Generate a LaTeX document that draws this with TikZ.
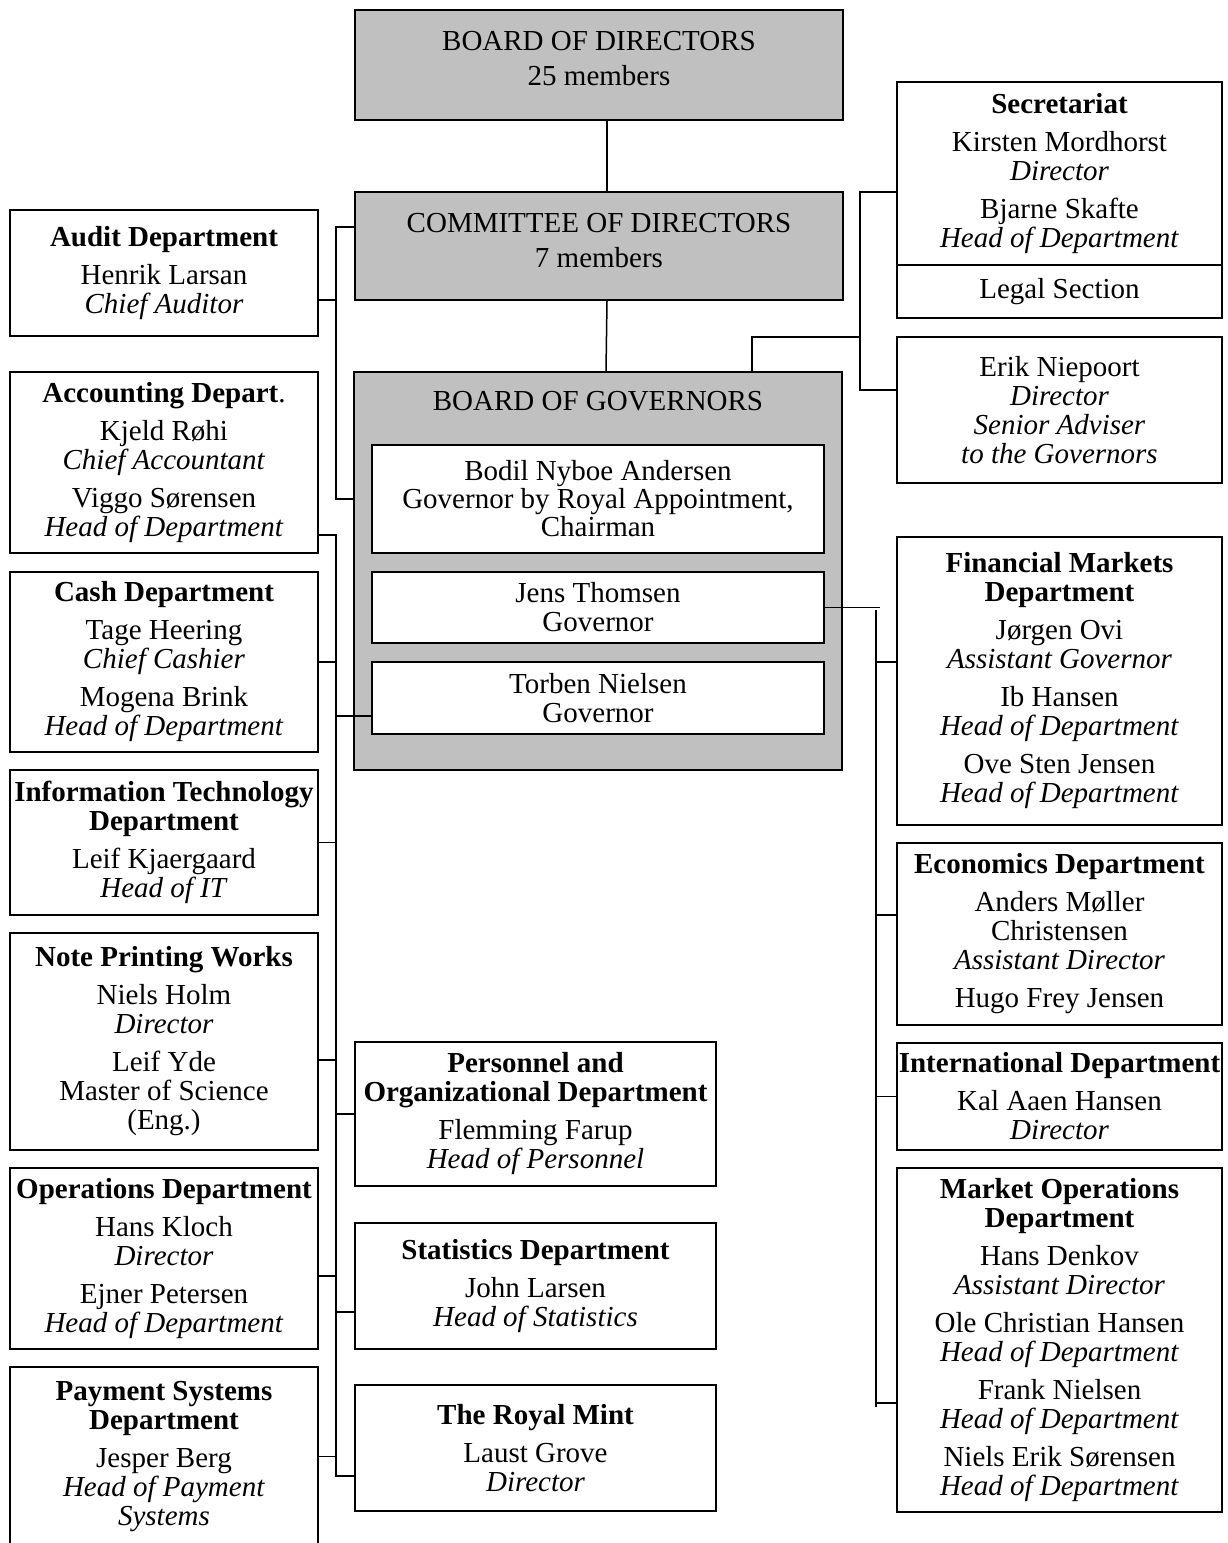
\documentclass[tikz,border=0pt]{standalone}
\usepackage{fontspec}
\setmainfont{Liberation Serif}
\definecolor{boardGray}{RGB}{192,192,192}
\newcommand{\orgfont}{\fontsize{14.5}{14.5}\selectfont}
\newcommand{\liftby}[1]{\rule[-#1]{0pt}{0pt}}
\tikzset{
    unit/.style={draw, fill=white, line width=1pt, inner sep=0pt, align=center, font=\orgfont},
    board/.style={unit, fill=boardGray},
    wire/.style={line width=0.75pt},
    org settings/.style={x=0.5pt, y=-0.5pt}
}

\begin{document}
\begin{tikzpicture}[org settings]
    \useasboundingbox (0,0) rectangle (1227,1543);

    % Configuration
    \def\gap{4.5pt}   % extra space between name groups

    % 1. Boards and committee (grey)
    \node[board, minimum width=244pt, minimum height=55pt] (directors) at (599,65)
        {BOARD OF DIRECTORS\\[3pt]25 members\liftby{7pt}};
    \node[board, minimum width=244pt, minimum height=54pt] (committee) at (599,246)
        {COMMITTEE OF DIRECTORS\\[3pt]7 members\liftby{6pt}};
    \node[board, minimum width=244pt, minimum height=199pt] (governors) at (598,571) {};
    \node[font=\orgfont, inner sep=0pt] (govtitle) at (598,401) {BOARD OF GOVERNORS};

    % Governors inside the grey box
    \node[unit, minimum width=226pt, minimum height=54pt] (bodil) at (598,499)
        {Bodil Nyboe Andersen\\[-0.5pt]Governor by Royal Appointment,\\[-0.5pt]Chairman};
    \node[unit, minimum width=226pt, minimum height=35.5pt] (jens) at (598,607.5)
        {Jens Thomsen\\Governor};
    \node[unit, minimum width=226pt, minimum height=36pt] (torben) at (598,698)
        {Torben Nielsen\\Governor};

    % 2. Left column
    \node[unit, minimum width=154pt, minimum height=63pt] (audit) at (164,273)
        {\textbf{Audit Department}\\[\gap]Henrik Larsan\\\textit{Chief Auditor}\liftby{3.5pt}};
    \node[unit, minimum width=154pt, minimum height=90.5pt] (accounting) at (164,462.5)
        {\textbf{Accounting Depart}.\\[\gap]Kjeld Røhi\\\textit{Chief Accountant}\\[\gap]Viggo Sørensen\\\textit{Head of Department}};
    \node[unit, minimum width=154pt, minimum height=90pt] (cash) at (164,662)
        {\textbf{Cash Department}\\[\gap]Tage Heering\\\textit{Chief Cashier}\\[\gap]Mogena Brink\\\textit{Head of Department}};
    \node[unit, minimum width=154pt, minimum height=72.5pt] (it) at (164,842.5)
        {\textbf{Information Technology}\\\textbf{Department}\\[\gap]Leif Kjaergaard\\\textit{Head of IT}};
    \node[unit, minimum width=154pt, minimum height=108.5pt] (printing) at (164,1041.5)
        {\textbf{Note Printing Works}\\[\gap]Niels Holm\\\textit{Director}\\[\gap]Leif Yde\\Master of Science\\(Eng.)};
    \node[unit, minimum width=154pt, minimum height=90.5pt] (operations) at (164,1258.5)
        {\textbf{Operations Department}\\[\gap]Hans Kloch\\\textit{Director}\\[\gap]Ejner Petersen\\\textit{Head of Department}};
    \node[unit, minimum width=154pt, minimum height=89.5pt] (payment) at (164,1456.5)
        {\textbf{Payment Systems}\\\textbf{Department}\\[\gap]Jesper Berg\\\textit{Head of Payment}\\\textit{Systems}};

    % 3. Middle column
    \node[unit, minimum width=180.5pt, minimum height=72pt] (personnel) at (535.5,1114)
        {\textbf{Personnel and}\\\textbf{Organizational Department}\\[\gap]Flemming Farup\\\textit{Head of Personnel}};
    \node[unit, minimum width=180.5pt, minimum height=63pt] (statistics) at (535.5,1286)
        {\textbf{Statistics Department}\\[\gap]John Larsen\\\textit{Head of Statistics}};
    \node[unit, minimum width=180.5pt, minimum height=63pt] (mint) at (535.5,1448)
        {\textbf{The Royal Mint}\\[\gap]Laust Grove\\\textit{Director}};

    % 4. Right column
    \node[unit, minimum width=162.5pt, minimum height=91.5pt] (secretariat) at (1059.5,173.5)
        {\textbf{Secretariat}\\[\gap]Kirsten Mordhorst\\\textit{Director}\\[\gap]Bjarne Skafte\\\textit{Head of Department}};
    \node[unit, minimum width=162.5pt, minimum height=26.5pt] (legal) at (1059.5,291.5)
        {Legal Section};
    \node[unit, minimum width=162.5pt, minimum height=73pt] (niepoort) at (1059.5,410)
        {Erik Niepoort\\\textit{Director}\\\textit{Senior Adviser}\\\textit{to the Governors}};
    \node[unit, minimum width=162.5pt, minimum height=144pt] (financial) at (1059.5,681)
        {\textbf{Financial Markets}\\\textbf{Department}\\[\gap]Jørgen Ovi\\\textit{Assistant Governor}\\[\gap]Ib Hansen\\\textit{Head of Department}\\[\gap]Ove Sten Jensen\\\textit{Head of Department}};
    \node[unit, minimum width=162.5pt, minimum height=91pt] (economics) at (1059.5,934)
        {\textbf{Economics Department}\\[\gap]Anders Møller\\Christensen\\\textit{Assistant Director}\\[\gap]Hugo Frey Jensen};
    \node[unit, minimum width=162.5pt, minimum height=53.5pt] (international) at (1059.5,1096.5)
        {\textbf{International Department}\\[\gap]Kal Aaen Hansen\\\textit{Director}};
    \node[unit, minimum width=162.5pt, minimum height=172pt] (marketops) at (1059.5,1340)
        {\textbf{Market Operations}\\\textbf{Department}\\[\gap]Hans Denkov\\\textit{Assistant Director}\\[\gap]Ole Christian Hansen\\\textit{Head of Department}\\[\gap]Frank Nielsen\\\textit{Head of Department}\\[\gap]Niels Erik Sørensen\\\textit{Head of Department}};

    % 5. Main chain
    \draw[wire] ([xshift=4pt]directors.south) -- ([xshift=4pt]committee.north);
    \draw[wire] ([xshift=4pt]committee.south) -- ([xshift=4pt]governors.north);

    % Committee bus on the left
    \coordinate (lbTop) at (336,227);
    \coordinate (lbMid) at (336,499);
    \draw[wire] (committee.west |- lbTop) -- (lbTop) -- (lbMid) -- (governors.west |- lbMid);
    \draw[wire] ([yshift=-13.5pt]audit.east) -- ++(18,0);

    % Long departmental bus
    \coordinate (lbStart) at (336,535);
    \coordinate (lbEnd) at (336,1476);
    \draw[wire] (accounting.east |- lbStart) -- (lbStart) -- (lbEnd) -- (mint.west |- lbEnd);
    \foreach \unitname/\dy in {cash/0, it/0, printing/-9.25, operations/-8.75, payment/0}
        \draw[wire] ([yshift=\dy pt]\unitname.east) -- ++(18,0);
    \foreach \unitname/\dy in {personnel/0, statistics/-13}
        \draw[wire] ([yshift=\dy pt]\unitname.west) -- ++(-19,0);
    \draw[wire] ([yshift=-9pt]torben.west) -- ++(-36,0);

    % Secretariat and adviser bracket
    \coordinate (advTop) at (860,192);
    \coordinate (advJoin) at (860,337);
    \coordinate (advBot) at (860,390);
    \draw[wire] (secretariat.west |- advTop) -- (advTop) -- (advBot) -- (niepoort.west |- advBot);
    \draw[wire] ([xshift=77pt]governors.north) |- (advJoin);

    % Right bus
    \draw[wire] (jens.east) -- ++(55,0);
    \coordinate (rbTop) at (876,610);
    \coordinate (rbEnd) at (876,1407);
    \draw[wire] (rbTop) -- (rbEnd);
    \foreach \unitname/\dy in {financial/9.5, economics/9.5, international/0, marketops/-31.5}
        \draw[wire] ([yshift=\dy pt]\unitname.west) -- ++(-20,0);

\end{tikzpicture}
\end{document}
